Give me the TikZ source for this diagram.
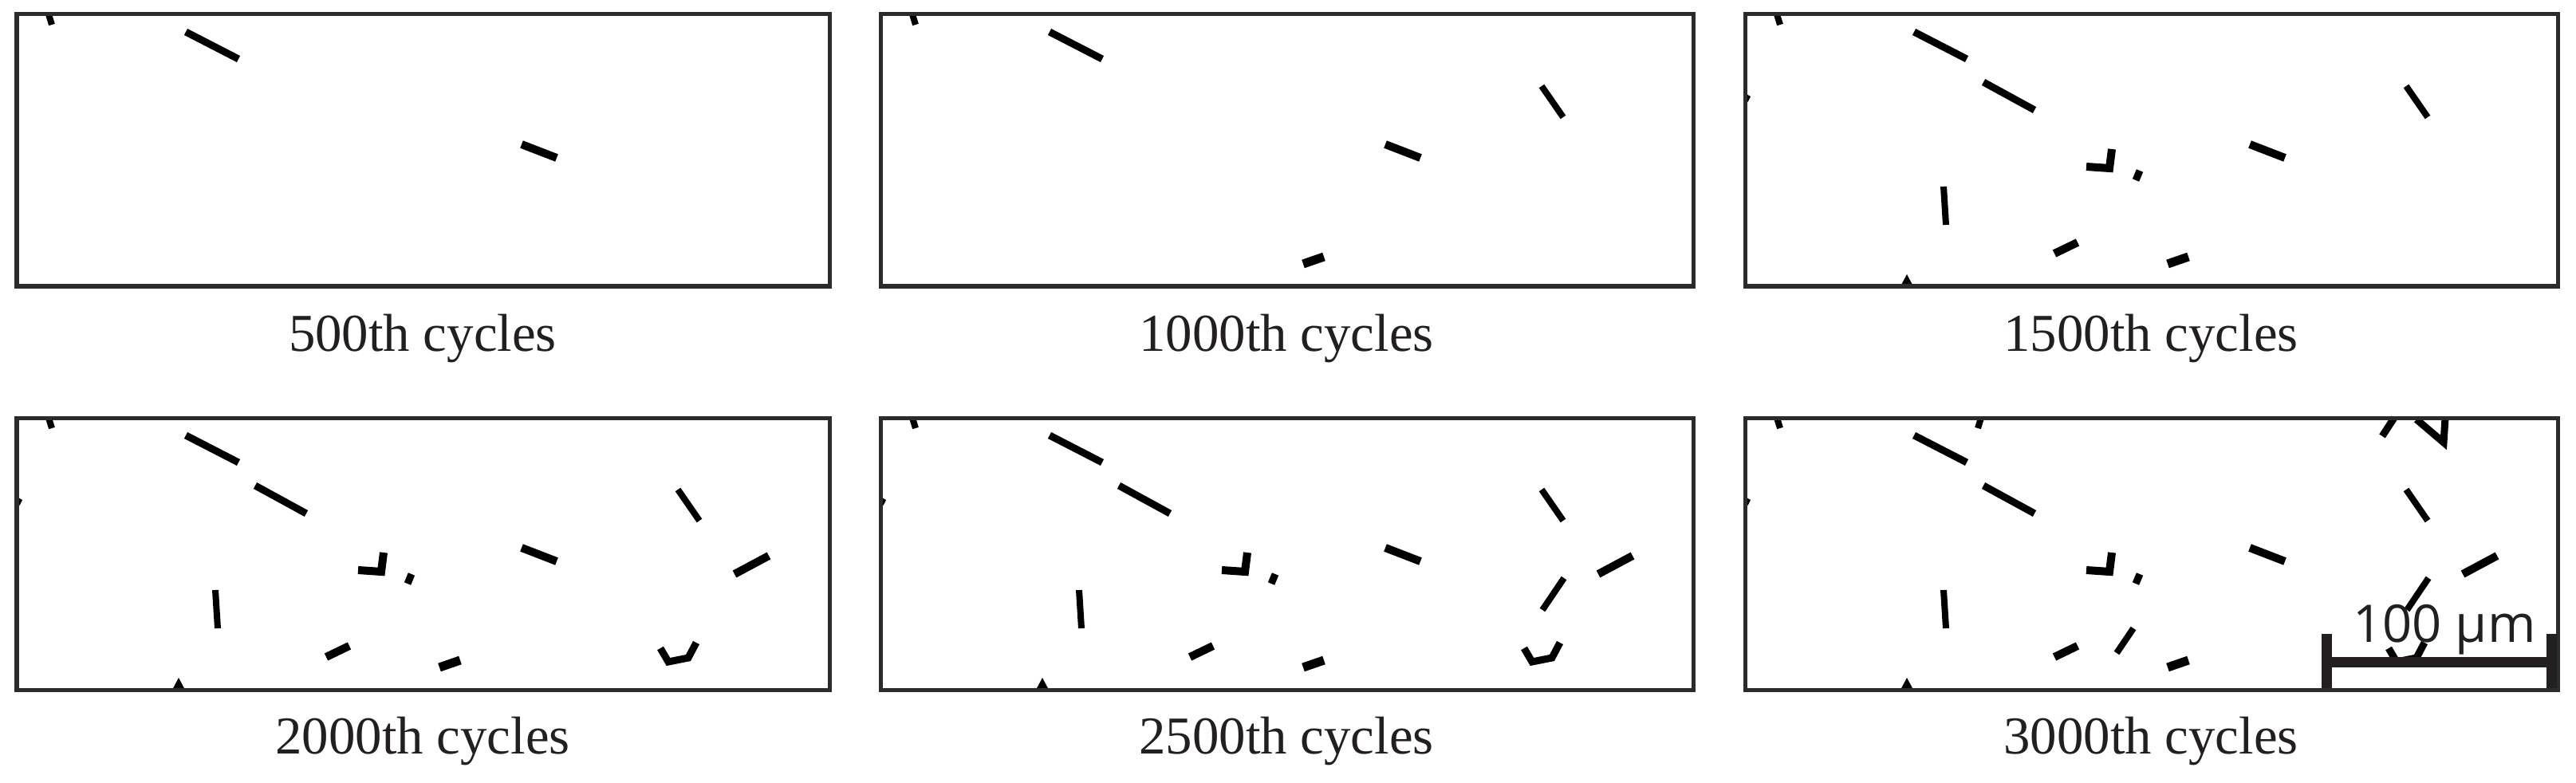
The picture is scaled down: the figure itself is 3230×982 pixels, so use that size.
\documentclass[tikz,border=0pt]{standalone}
\usepackage{fontspec}
\setmainfont{Liberation Serif}
\newfontfamily\barfont{Open Sans}
\definecolor{boxgray}{HTML}{2B2B2B}
\definecolor{labelblack}{HTML}{231F20}
\tikzset{
  crack/.style={line width=0.09cm, black, line join=miter},
  thincrack/.style={line width=0.08cm, black, line join=miter},
  thickcrack/.style={line width=0.10cm, black, line join=miter},
  crackfill/.style={fill=black, draw=none},
  panelbox/.style={draw=boxgray, line width=0.05cm},
  caption/.style={font=\fontsize{19}{22}\selectfont, text=labelblack, anchor=base, inner sep=0pt},
  scalebar/.style={draw=labelblack, line width=0.13cm}
}
% crack sets (coordinates relative to the panel's top-left corner, in px)
\newcommand\cracksOne{%
  \draw[thincrack] (40,0)--(44,13);
  \draw[crack] (212,22)--(278,56);
  \draw[thickcrack] (633,163)--(677,180);
}
\newcommand\cracksTwo{%
  \draw[thincrack] (829,90)--(856,129);
  \draw[crack, line width=0.11cm] (530,313)--(556,304);
}
\newcommand\cracksThree{%
  \draw[crack] (299,85)--(363,120);
  \fill[crackfill] (0,99)--(7,103)--(4,109)--(0,114)--cycle;
  \draw[thickcrack] (460,169)--(457,193)--(428,191);
  \draw[crack] (495,196)--(490,208);
  \draw[thincrack] (249,216)--(252,264);
  \draw[thickcrack] (388,300)--(417,286);
  \fill[crackfill] (195,341)--(203,326)--(211,341)--cycle;
}
\newcommand\cracksFour{%
  \draw[thickcrack] (900,196)--(943,173);
  \draw[crack] (807,289)--(817,306)--(842,301)--(852,282);
}
\newcommand\cracksFive{%
  \draw[thincrack] (857,201)--(830,241);
}
\newcommand\cracksSix{%
  \draw[thincrack] (296,0)--(292,13);
  \draw[crack] (799,23)--(814,0);
  \draw[crack] (842,2)--(876,31)--(878,0);
  \draw[thincrack] (487,264)--(466,295);
}
\begin{document}
\begin{tikzpicture}[x=0.01cm,y=-0.01cm]
\useasboundingbox[fill=white] (0,0) rectangle (3230,982);

% panel 1
\begin{scope}[shift={(21,18)}]
  \cracksOne
  \draw[panelbox] (0,0) rectangle (1019,341);
\end{scope}
% panel 2
\begin{scope}[shift={(1104,18)}]
  \cracksOne \cracksTwo
  \draw[panelbox] (0,0) rectangle (1019,341);
\end{scope}
% panel 3
\begin{scope}[shift={(2188,18)}]
  \cracksOne \cracksTwo \cracksThree
  \draw[panelbox] (0,0) rectangle (1019,341);
\end{scope}
% panel 4
\begin{scope}[shift={(21,524)}]
  \cracksOne \cracksTwo \cracksThree \cracksFour
  \draw[panelbox] (0,0) rectangle (1019,341);
\end{scope}
% panel 5
\begin{scope}[shift={(1104,524)}]
  \cracksOne \cracksTwo \cracksThree \cracksFour \cracksFive
  \draw[panelbox] (0,0) rectangle (1019,341);
\end{scope}
% panel 6
\begin{scope}[shift={(2188,524)}]
  \cracksOne \cracksTwo \cracksThree \cracksFour \cracksFive \cracksSix
  \draw[panelbox] (0,0) rectangle (1019,341);
  % scale bar
  \coordinate (sbL) at (729,306);
  \coordinate (sbR) at (1011,306);
  \draw[scalebar] (sbL) -- (sbR);
  \draw[scalebar] (729,271) -- (729,339);
  \draw[scalebar] (1011,271) -- (1011,339);
  \node[font=\barfont\fontsize{18.5}{20}\selectfont, text=labelblack, anchor=base, inner sep=0pt] (sbtext) at (877,281) {100 µm};
\end{scope}

% captions
\node[caption] (cap1) at (530,440) {500th cycles};
\node[caption] (cap2) at (1613,440) {1000th cycles};
\node[caption] (cap3) at (2697,440) {1500th cycles};
\node[caption] (cap4) at (530,945) {2000th cycles};
\node[caption] (cap5) at (1613,945) {2500th cycles};
\node[caption] (cap6) at (2697,945) {3000th cycles};
\end{tikzpicture}
\end{document}
